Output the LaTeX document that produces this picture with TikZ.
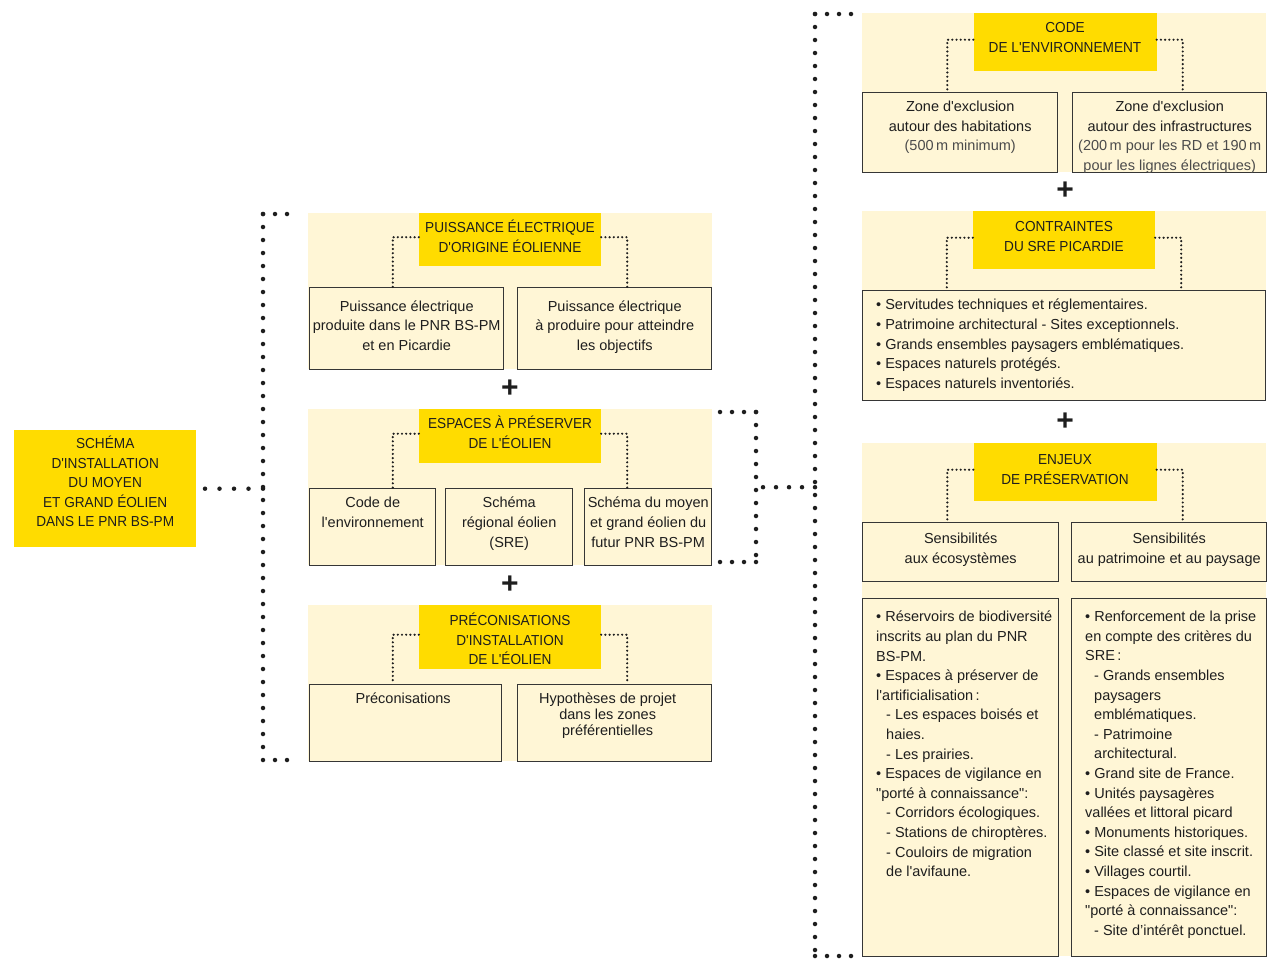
\documentclass[tikz,border=0pt]{standalone}
\usepackage{fontspec}
\setmainfont{Liberation Sans}[Ligatures=TeXOff]
\newfontfamily\titrefont{Liberation Sans}[FakeStretch=0.94, Ligatures=TeXOff]
\usetikzlibrary{positioning}
\definecolor{jaune}{HTML}{FFDC00}
\definecolor{creme}{HTML}{FFF6D6}
\definecolor{trait}{HTML}{363636}
\definecolor{encre}{HTML}{1E1E1E}
\newcommand\tete{\rule{0pt}{14pt}}

\tikzset{
  panneau/.style={fill=creme, inner sep=0pt, anchor=north west},
  titre/.style={fill=jaune, inner sep=0pt, anchor=north},
  titre texte/.style={inner sep=0pt, align=center, text=encre, font=\fontsize{14.5}{19.6}\titrefont},
  boite/.style={draw=trait, line width=1.4pt, fill=creme, inner sep=0pt, anchor=north west},
  texte/.style={inner sep=0pt, align=center, text=encre},
  liste/.style={inner sep=0pt, align=left, text=encre},
  signe/.style={font=\fontsize{30}{30}\selectfont\bfseries, text=encre, inner sep=0pt},
  gros points/.style={draw=encre, line width=4.5pt, line cap=round, dash pattern=on 0pt off #1},
  gros points/.default=13pt,
  petits points/.style={draw=encre, line width=2.4pt, line cap=round, dash pattern=on 0pt off 4.2pt},
}

\begin{document}
\begin{tikzpicture}[x=1pt, y=-1pt, font=\fontsize{14.5}{19.6}\selectfont]
  \path[use as bounding box, fill=white] (0,0) rectangle (1280,969);

  \node[titre, anchor=north west, minimum width=182pt, minimum height=117pt] (schema) at (14,430) {};
  \node[titre texte, below=4.2pt of schema.north] (schemat)
    {\tete SCHÉMA\\D'INSTALLATION\\DU MOYEN\\ET GRAND ÉOLIEN\\DANS LE PNR BS-PM};

  % colonne du milieu
  \node[panneau, minimum width=404pt, minimum height=156pt] (p1) at (308,213) {};
  \node[titre, minimum width=182pt, minimum height=53pt] (t1) at (510,213) {};
  \node[titre texte, below=5.2pt of t1.north] (t1t) {\tete PUISSANCE ÉLECTRIQUE\\D'ORIGINE ÉOLIENNE};
  \node[boite, minimum width=194pt, minimum height=82pt] (pe1) at (309,287) {};
  \node[boite, minimum width=194pt, minimum height=82pt] (pe2) at (517,287) {};
  \node[texte, below=13.5pt of pe1.north] (pe1t) {Puissance électrique\\produite dans le PNR BS-PM\\et en Picardie};
  \node[texte, below=13.5pt of pe2.north] (pe2t) {Puissance électrique\\à produire pour atteindre\\les objectifs};
  \node[signe] (plus1) at (510,389) {+};

  \node[panneau, minimum width=404pt, minimum height=156pt] (p2) at (308,409) {};
  \node[titre, minimum width=182pt, minimum height=54pt] (t2) at (510,409) {};
  \node[titre texte, below=5.2pt of t2.north] (t2t) {\tete ESPACES À PRÉSERVER\\DE L'ÉOLIEN};
  \node[boite, minimum width=126pt, minimum height=77pt] (es1) at (309,488) {};
  \node[boite, minimum width=127pt, minimum height=77pt] (es2) at (445,488) {};
  \node[boite, minimum width=127pt, minimum height=77pt] (es3) at (584,488) {};
  \node[texte, below=9pt of es1.north] (es1t) {Code de\\l'environnement};
  \node[texte, below=9pt of es2.north] (es2t) {Schéma\\régional éolien\\(SRE)};
  \node[texte, below=9pt of es3.north] (es3t) {Schéma du moyen\\et grand éolien du\\futur PNR BS-PM};
  \node[signe] (plus2) at (510,585) {+};

  \node[panneau, minimum width=404pt, minimum height=156pt] (p3) at (308,605) {};
  \node[titre, minimum width=182pt, minimum height=64pt] (t3) at (510,605) {};
  \node[titre texte, below=6.2pt of t3.north] (t3t) {\tete PRÉCONISATIONS\\D'INSTALLATION\\DE L'ÉOLIEN};
  \node[boite, minimum width=192pt, minimum height=77pt] (pr1) at (309,684) {};
  \node[boite, minimum width=194pt, minimum height=77pt] (pr2) at (517,684) {};
  \node[texte, below=9pt of pr1.north, xshift=-2.5pt] (pr1t) {Préconisations};
  \node[texte, below=9pt of pr2.north, xshift=-7pt, font=\fontsize{14.5}{16}\selectfont] (pr2t)
    {Hypothèses de projet\\dans les zones\\préférentielles};

  % colonne de droite
  \node[panneau, minimum width=404pt, minimum height=159pt] (q1) at (862,13) {};
  \node[titre, minimum width=183pt, minimum height=58pt] (u1) at (1065,13) {};
  \node[titre texte, below=5.2pt of u1.north] (u1t) {\tete CODE\\DE L'ENVIRONNEMENT};
  \node[boite, minimum width=195pt, minimum height=80pt] (ce1) at (862,92) {};
  \node[boite, minimum width=194pt, minimum height=80pt] (ce2) at (1072,92) {};
  \node[texte, below=9pt of ce1.north] (ce1t)
    {Zone d'exclusion\\autour des habitations\\\textcolor{encre!80}{(500\,m minimum)}};
  \node[texte, below=9pt of ce2.north] (ce2t)
    {Zone d'exclusion\\autour des infrastructures\\\textcolor{encre!80}{(200\,m pour les RD et 190\,m}\\\textcolor{encre!80}{pour les lignes électriques)}};
  \node[signe] (plus3) at (1065,191) {+};

  \node[panneau, minimum width=404pt, minimum height=189pt] (q2) at (862,211) {};
  \node[titre, minimum width=182pt, minimum height=58pt] (u2) at (1064,211) {};
  \node[titre texte, below=6.2pt of u2.north] (u2t) {\tete CONTRAINTES\\DU SRE PICARDIE};
  \node[boite, minimum width=403pt, minimum height=110pt] (sr) at (862,290) {};
  \node[liste, below right=9pt and 14pt of sr.north west] (srt)
    {• Servitudes techniques et réglementaires.\\
     • Patrimoine architectural - Sites exceptionnels.\\
     • Grands ensembles paysagers emblématiques.\\
     • Espaces naturels protégés.\\
     • Espaces naturels inventoriés.};
  \node[signe] (plus4) at (1065,422) {+};

  \node[panneau, minimum width=404pt, minimum height=513pt] (q3) at (862,443) {};
  \node[titre, minimum width=183pt, minimum height=58pt] (u3) at (1065,443) {};
  \node[titre texte, below=7.2pt of u3.north] (u3t) {\tete ENJEUX\\DE PRÉSERVATION};
  \node[boite, minimum width=196pt, minimum height=59pt] (en1) at (862,522) {};
  \node[boite, minimum width=195pt, minimum height=59pt] (en2) at (1071,522) {};
  \node[texte, below=11pt of en1.north] (en1t) {Sensibilités\\aux écosystèmes};
  \node[texte, below=11pt of en2.north] (en2t) {Sensibilités\\au patrimoine et au paysage};
  \node[boite, minimum width=196pt, minimum height=358pt] (en3) at (862,598) {};
  \node[boite, minimum width=195pt, minimum height=358pt] (en4) at (1071,598) {};
  \node[liste, below right=13pt and 14pt of en3.north west] (en3t)
    {• Réservoirs de biodiversité\\
     inscrits au plan du PNR\\
     BS-PM.\\
     • Espaces à préserver de\\
     l'artificialisation\,:\\
     \hspace*{10pt}- Les espaces boisés et\\
     \hspace*{10pt}haies.\\
     \hspace*{10pt}- Les prairies.\\
     • Espaces de vigilance en\\
     "porté à connaissance":\\
     \hspace*{10pt}- Corridors écologiques.\\
     \hspace*{10pt}- Stations de chiroptères.\\
     \hspace*{10pt}- Couloirs de migration\\
     \hspace*{10pt}de l'avifaune.};
  \node[liste, below right=13pt and 14pt of en4.north west] (en4t)
    {• Renforcement de la prise\\
     en compte des critères du\\
     SRE\,:\\
     \hspace*{9pt}- Grands ensembles\\
     \hspace*{9pt}paysagers\\
     \hspace*{9pt}emblématiques.\\
     \hspace*{9pt}- Patrimoine\\
     \hspace*{9pt}architectural.\\
     • Grand site de France.\\
     • Unités paysagères\\
     vallées et littoral picard\\
     • Monuments historiques.\\
     • Site classé et site inscrit.\\
     • Villages courtil.\\
     • Espaces de vigilance en\\
     "porté à connaissance":\\
     \hspace*{9pt}- Site d’intérêt ponctuel.};

  % liaisons fines
  \foreach \t/\a/\b in {t1/pe1/pe2, t2/es1/es3, t3/pr1/pr2, u1/ce1/ce2, u2/sr/sr, u3/en1/en2} {
    \draw[petits points] ([yshift=2.5pt]\t.west) -| ([xshift=-26pt]\t.west |- \a.north);
    \draw[petits points] ([yshift=2.5pt]\t.east) -| ([xshift=26pt]\t.east |- \b.north);
  }

  % liaisons en gros points
  \coordinate (gh) at (263,214);
  \coordinate (gb) at (263,760);
  \coordinate (dh) at (756,412);
  \coordinate (db) at (756,562);
  \coordinate (ch) at (815,14);
  \coordinate (cb) at (815,956);
  \draw[gros points=14.5pt] (schema.east -| gh) -- ([xshift=8.5pt]schema.east);
  \draw[gros points=12pt] (gh) -- ([xshift=-9.5pt]gh -| p1.west);
  \draw[gros points] (gh) -- (gb);
  \draw[gros points=12pt] (gb) -- ([xshift=-9.5pt]gb -| p3.west);
  \draw[gros points=12pt] (dh) -- ([xshift=7.5pt]dh -| p2.east);
  \draw[gros points] (dh) -- (db);
  \draw[gros points=12pt] (db) -- ([xshift=7.5pt]db -| p2.east);
  \draw[gros points] (ch |- p2.east) -- (dh |- p2.east);
  \draw[gros points=12pt] (ch) -- ([xshift=-10.5pt]ch -| q1.west);
  \draw[gros points] (ch) -- (cb);
  \draw[gros points=12pt] (cb) -- ([xshift=-10.5pt]cb -| q3.west);
\end{tikzpicture}
\end{document}
